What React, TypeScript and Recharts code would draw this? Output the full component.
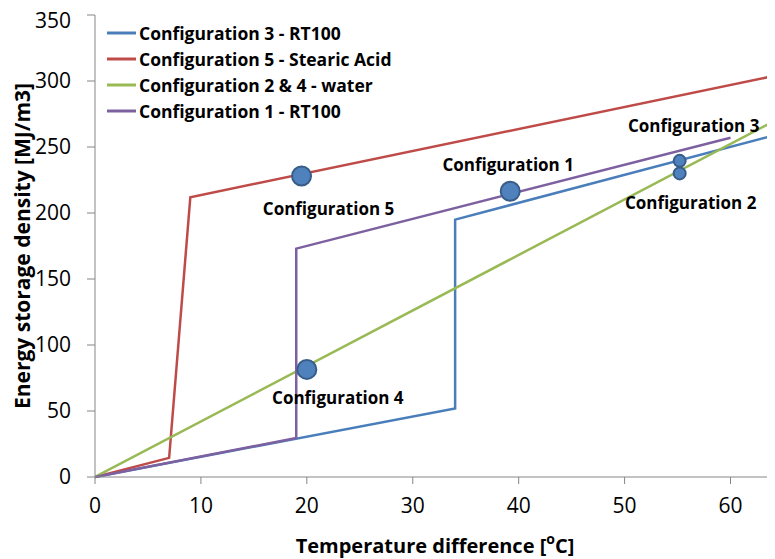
import React from "react";
import { ComposedChart, Line, Scatter, XAxis, YAxis } from "recharts";

// Series: x = temperature difference (°C), y = energy storage density (MJ/m3)
const config3X = [0, 34, 34, 64.2];
const config3Y = [0, 52, 195, 259];
const config5X = [0, 7, 9, 64.2];
const config5Y = [0, 14.5, 212, 304];
const waterX = [0, 64.2];
const waterY = [0, 270];
const config1X = [0, 19, 19, 60];
const config1Y = [0, 29.5, 173, 257];

const markerNames = ["Configuration 5", "Configuration 4", "Configuration 1", "Configuration 3", "Configuration 2"];
const markerX = [19.5, 20, 39.2, 55.2, 55.2];
const markerY = [228, 81.5, 216.5, 239.5, 230];
const markerBig = [true, true, true, false, false];

const xTicks = [0, 10, 20, 30, 40, 50, 60];
const yTicks = [0, 50, 100, 150, 200, 250, 300, 350];

const legendNames = [
  "Configuration 3 - RT100",
  "Configuration 5 - Stearic Acid",
  "Configuration 2 & 4 - water",
  "Configuration 1 - RT100",
];
const seriesColors = ["#4A7EBB", "#BE4B48", "#98B954", "#7D60A0"];

const zip = (xs: number[], ys: number[]) => xs.map((x, i) => ({ x, y: ys[i] }));

const markers = markerNames.map((name, i) => ({ name, x: markerX[i], y: markerY[i], big: markerBig[i] }));

// label offsets (styling), keyed by marker name
const labelOffset: Record<string, [number, number]> = {
  "Configuration 5": [27, 32],
  "Configuration 4": [31, 28],
  "Configuration 1": [-2, -27],
  "Configuration 3": [14, -35],
  "Configuration 2": [11, 29],
};

const FONT = "'Open Sans', 'Liberation Sans', sans-serif";

const MarkerShape = (props: any) => {
  const { cx, cy, payload } = props;
  const r = payload.big ? 9.5 : 6;
  const [dx, dy] = labelOffset[payload.name];
  return (
    <g>
      <circle cx={cx} cy={cy} r={r} fill="#4F81BD" stroke="#385D8A" strokeWidth={2} />
      <text
        x={cx + dx}
        y={cy + dy}
        textAnchor="middle"
        dominantBaseline="central"
        fontFamily={FONT}
        fontWeight="bold"
        fontSize={17}
        fill="#000"
      >
        {payload.name}
      </text>
    </g>
  );
};

const LegendBox = () => (
  <div
    style={{
      position: "absolute",
      left: 99,
      top: 12,
      fontFamily: FONT,
      fontWeight: "bold",
      fontSize: 17.5,
      color: "#000",
      lineHeight: "26px",
    }}
  >
    {legendNames.map((name, i) => (
      <div key={name} style={{ display: "flex", alignItems: "center", height: 26, whiteSpace: "nowrap" }}>
        <svg width={29} height={6} style={{ marginRight: 3 }}>
          <line x1={0} y1={3} x2={29} y2={3} stroke={seriesColors[i]} strokeWidth={3} />
        </svg>
        <span>{name}</span>
      </div>
    ))}
  </div>
);

const XLabel = (props: any) => {
  const { viewBox } = props;
  const cx = viewBox.x + viewBox.width / 2;
  return (
    <text x={cx} y={537} textAnchor="middle" dominantBaseline="central" fontFamily={FONT} fontWeight="bold" fontSize={20} fill="#000">
      Temperature difference [
      <tspan dy={-7} fontSize={14}>o</tspan>
      <tspan dy={7}>C]</tspan>
    </text>
  );
};

const YLabel = (props: any) => {
  const { viewBox } = props;
  const cy = viewBox.y + viewBox.height / 2;
  const x = 14;
  return (
    <text
      x={x}
      y={cy}
      transform={`rotate(-90 ${x} ${cy})`}
      textAnchor="middle"
      dominantBaseline="central"
      fontFamily={FONT}
      fontWeight="bold"
      fontSize={21}
      fill="#000"
    >
      Energy storage density [MJ/m3]
    </text>
  );
};

export default function App() {
  const tickStyle = { fontFamily: FONT, fontSize: 21, fill: "#000" };
  return (
    <div style={{ position: "relative", width: 767, height: 551 }}>
      <ComposedChart width={767} height={551} margin={{ top: 7, right: 0, left: 0, bottom: 0 }}>
        <XAxis
          type="number"
          dataKey="x"
          domain={[0, 64.2]}
          ticks={xTicks}
          allowDataOverflow
          stroke="#868686"
          tickSize={7}
          tickMargin={14}
          tick={tickStyle}
          height={82}
          label={<XLabel />}
        />
        <YAxis
          type="number"
          dataKey="y"
          domain={[0, 350]}
          ticks={yTicks}
          stroke="#868686"
          tickSize={8}
          tickMargin={16}
          tick={tickStyle}
          width={87}
          label={<YLabel />}
        />
        {legendNames.map((name, i) => {
          const xs = [config3X, config5X, waterX, config1X][i];
          const ys = [config3Y, config5Y, waterY, config1Y][i];
          return (
            <Line
              key={name}
              data={zip(xs, ys)}
              dataKey="y"
              type="linear"
              stroke={seriesColors[i]}
              strokeWidth={2.5}
              dot={false}
              isAnimationActive={false}
              name={name}
            />
          );
        })}
        <Scatter data={markers} dataKey="y" shape={<MarkerShape />} isAnimationActive={false} legendType="none" />
      </ComposedChart>
      <LegendBox />
    </div>
  );
}
